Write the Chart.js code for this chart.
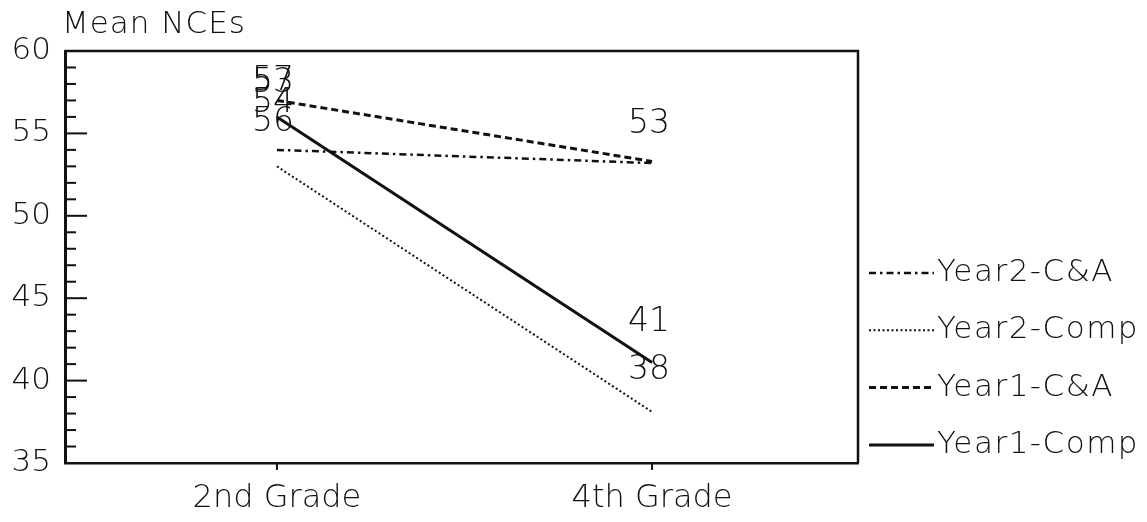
<!DOCTYPE html>
<html>
<head>
<meta charset="utf-8">
<script src="https://cdn.jsdelivr.net/npm/chart.js@4/dist/chart.umd.min.js"></script>
<style>
  html, body { margin: 0; padding: 0; background: #fff; }
  #wrap { width: 1147px; height: 522px; position: relative; }
</style>
</head>
<body>
<div id="wrap"><canvas id="c" width="1147" height="522"></canvas></div>
<script>
// ---- Data ----
const categories = ['2nd Grade', '4th Grade'];
const yTickValues = [35, 40, 45, 50, 55, 60];
const seriesNames = ['Year2-C&A', 'Year2-Comp', 'Year1-C&A', 'Year1-Comp'];
const year2CA = [54.0, 53.2];
const year2Comp = [53.0, 38.1];
const year1CA = [57.0, 53.3];
const year1Comp = [56.0, 41.1];
const year2CALabels = ['54', '53'];
const year2CompLabels = ['53', '38'];
const year1CALabels = ['57', '53'];
const year1CompLabels = ['56', '41'];
const yAxisTitle = 'Mean NCEs';

const FONT = '"DejaVu Sans", sans-serif';
const WEIGHT = '200';
const INK = '#111';

const seriesValues = [year2CA, year2Comp, year1CA, year1Comp];
const seriesLabels = [year2CALabels, year2CompLabels, year1CALabels, year1CompLabels];
const seriesStyle = [
  { dash: [7, 4, 2.5, 4], width: 2.5 },
  { dash: [2, 2.5], width: 2 },
  { dash: [7, 4], width: 3 },
  { dash: [], width: 3 }
];
// label offsets (px) relative to each point: [dx, dy] per category
const labelOffsets = [
  [[-4, -47], [-3, -39]],
  [[-4, -83], [-3, -42]],
  [[-4, -19], [-3, -39]],
  [[-4, 5], [-3, -40]]
];

const datasets = seriesNames.map((name, s) => ({
  label: name,
  data: seriesValues[s].map((v, i) => ({ x: i, y: v })),
  borderColor: INK,
  borderWidth: seriesStyle[s].width,
  borderDash: seriesStyle[s].dash,
  pointRadius: 0,
  tension: 0,
  fill: false
}));

const decor = {
  id: 'decor',
  afterDraw(chart) {
    const ctx = chart.ctx;
    const ca = chart.chartArea;
    const ys = chart.scales.y, xs = chart.scales.x;
    ctx.save();
    ctx.strokeStyle = INK;
    ctx.fillStyle = INK;
    // top & right border
    ctx.lineWidth = 2.5;
    ctx.setLineDash([]);
    ctx.beginPath();
    ctx.moveTo(ca.left, ca.top); ctx.lineTo(ca.right, ca.top);
    ctx.lineTo(ca.right, ca.bottom);
    ctx.stroke();
    // inward y ticks
    ctx.lineWidth = 2;
    for (let v = ys.min + 1; v < ys.max; v++) {
      const y = ys.getPixelForValue(v);
      const len = (v % 5 === 0) ? 22 : 11;
      ctx.beginPath(); ctx.moveTo(ca.left, y); ctx.lineTo(ca.left + len, y); ctx.stroke();
    }
    // x category ticks (below axis)
    categories.forEach((c, i) => {
      const x = xs.getPixelForValue(i);
      ctx.beginPath(); ctx.moveTo(x, ca.bottom); ctx.lineTo(x, ca.bottom + 7); ctx.stroke();
    });
    // axis title
    ctx.font = WEIGHT + ' 31px ' + FONT;
    ctx.letterSpacing = '1px';
    ctx.textAlign = 'left';
    ctx.textBaseline = 'middle';
    ctx.fillText(yAxisTitle, 62, 25);
    ctx.letterSpacing = '0px';
    // data labels (skip exact duplicates at same spot)
    ctx.font = WEIGHT + ' 33px ' + FONT;
    ctx.textAlign = 'center';
    const drawn = new Set();
    chart.data.datasets.forEach((ds, s) => {
      const meta = chart.getDatasetMeta(s);
      meta.data.forEach((pt, i) => {
        const off = labelOffsets[s][i];
        const tx = Math.round(pt.x + off[0]), ty = Math.round(pt.y + off[1]);
        const key = seriesLabels[s][i] + '@' + Math.round(tx / 4) + ',' + Math.round(ty / 4);
        if (drawn.has(key)) return;
        drawn.add(key);
        ctx.fillText(seriesLabels[s][i], tx, ty);
      });
    });
    // legend
    ctx.font = WEIGHT + ' 31px ' + FONT;
    ctx.letterSpacing = '1.5px';
    ctx.textAlign = 'left';
    const legendY0 = 273, legendStep = 57.3;
    chart.data.datasets.forEach((ds, s) => {
      const y = legendY0 + s * legendStep;
      ctx.lineWidth = ds.borderWidth;
      ctx.setLineDash(ds.borderDash);
      ctx.beginPath(); ctx.moveTo(869, y); ctx.lineTo(934, y); ctx.stroke();
      ctx.setLineDash([]);
      ctx.fillText(ds.label, 937, y);
    });
    ctx.restore();
  }
};

new Chart(document.getElementById('c'), {
  type: 'line',
  data: { datasets },
  plugins: [decor],
  options: {
    responsive: false,
    animation: false,
    events: [],
    layout: { padding: { top: 51, right: 289, bottom: 0, left: 0 } },
    plugins: { legend: { display: false }, tooltip: { enabled: false }, title: { display: false } },
    scales: {
      x: {
        type: 'linear',
        min: -0.565,
        max: 1.549,
        afterBuildTicks: (scale) => { scale.ticks = categories.map((c, i) => ({ value: i })); },
        afterFit: (scale) => { scale.height = 59; },
        ticks: {
          callback: (v) => categories[v],
          font: { family: FONT, size: 32, weight: WEIGHT },
          color: INK,
          padding: 16,
          maxRotation: 0,
          autoSkip: false
        },
        grid: { display: false, drawTicks: false },
        border: { display: true, color: INK, width: 2.5 }
      },
      y: {
        type: 'linear',
        min: 35,
        max: 60,
        afterBuildTicks: (scale) => { scale.ticks = yTickValues.map(v => ({ value: v })); },
        afterFit: (scale) => { scale.width = 65; },
        ticks: {
          font: { family: FONT, size: 31, weight: WEIGHT },
          color: INK,
          padding: 14
        },
        grid: { display: false, drawTicks: false },
        border: { display: true, color: INK, width: 3 }
      }
    }
  }
});
</script>
</body>
</html>
